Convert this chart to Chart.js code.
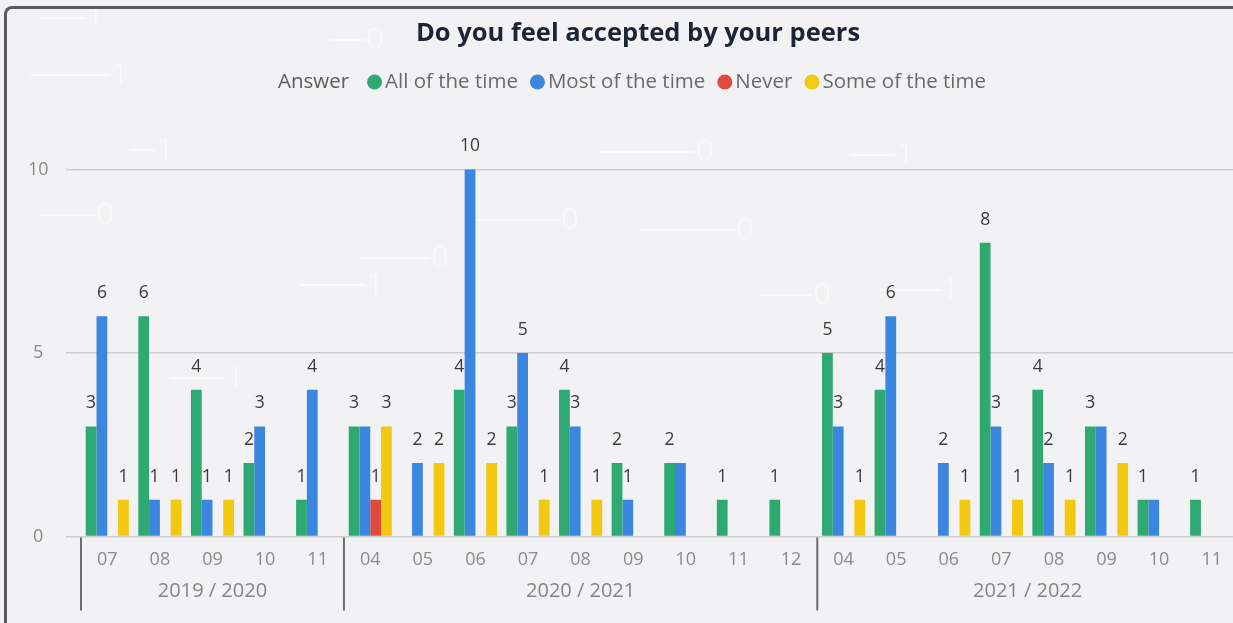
<!DOCTYPE html>
<html>
<head>
<meta charset="utf-8">
<title>Do you feel accepted by your peers</title>
<script src="https://cdn.jsdelivr.net/npm/chart.js@4.4.1/dist/chart.umd.min.js"></script>
<style>
  html, body { margin: 0; padding: 0; overflow: hidden; background: #f6f6f7; }
  #wrap { position: absolute; left: 0; top: 0; width: 1276px; height: 623px; background: #f2f2f4; }
  #frame {
    position: absolute; left: 4px; top: 6px; width: 1400px; height: 800px;
    border-left: 3px solid #5a5a5c; border-top: 3px solid #5a5a5c;
    border-top-left-radius: 8px; pointer-events: none;
  }
</style>
</head>
<body>
<div id="wrap"><canvas id="chart" width="1276" height="623"></canvas></div>
<div id="frame"></div>
<script>
// Months of each school year, in order
const months = [
  '07', '08', '09', '10', '11',
  '04', '05', '06', '07', '08', '09', '10', '11', '12',
  '04', '05', '06', '07', '08', '09', '10', '11'
];
const schoolYears = ['2019 / 2020', '2020 / 2021', '2021 / 2022'];
const monthsPerYear = [5, 9, 8];

const answers = ['All of the time', 'Most of the time', 'Never', 'Some of the time'];
const answerColors = ['#2fa972', '#3b86de', '#e04a3c', '#f2c811'];

const allOfTheTime  = [3, 6, 4, 2, 1,  3, 0, 4, 3, 4, 2, 2, 1, 1,  5, 4, 0, 8, 4, 3, 1, 1];
const mostOfTheTime = [6, 1, 1, 3, 4,  3, 2, 10, 5, 3, 1, 2, 0, 0,  3, 6, 2, 3, 2, 3, 1, 0];
const never         = [0, 0, 0, 0, 0,  1, 0, 0, 0, 0, 0, 0, 0, 0,  0, 0, 0, 0, 0, 0, 0, 0];
const someOfTheTime = [1, 1, 1, 0, 0,  3, 2, 2, 1, 1, 0, 0, 0, 0,  1, 0, 1, 1, 1, 2, 0, 0];

const yTicks = [0, 5, 10];

const seriesValues = [allOfTheTime, mostOfTheTime, never, someOfTheTime];

const FONT = '"Open Sans", "Noto Sans", sans-serif';

// Faint binary-code pattern painted behind the chart
const backdrop = {
  id: 'backdrop',
  beforeDraw(chart) {
    const ctx = chart.ctx;
    ctx.save();
    ctx.strokeStyle = 'rgba(255,255,255,0.55)';
    ctx.fillStyle = 'rgba(255,255,255,0.55)';
    ctx.lineWidth = 2;
    ctx.font = '300 30px ' + FONT;
    ctx.textAlign = 'center';
    ctx.textBaseline = 'middle';
    const glyphs = [
      ['1', 95, 18, 40], ['0', 375, 40, 330], ['1', 165, 150, 130], ['0', 105, 215, 40],
      ['0', 440, 258, 360], ['1', 375, 285, 300], ['0', 570, 220, 470], ['0', 745, 230, 640],
      ['0', 705, 152, 600], ['0', 822, 295, 760], ['1', 950, 290, 880], ['1', 235, 378, 170],
      ['1', 120, 75, 30], ['1', 905, 155, 850]
    ];
    glyphs.forEach(([t, x, y, from]) => {
      ctx.fillText(t, x, y);
      ctx.beginPath();
      ctx.moveTo(from, y);
      ctx.lineTo(x - 10, y);
      ctx.stroke();
    });
    ctx.restore();
  }
};

// Legend row: "Answer" caption followed by a dot and name per series
const answerLegend = {
  id: 'answerLegend',
  afterDraw(chart) {
    const ctx = chart.ctx;
    const y = 82;
    const r = 7.5;
    ctx.save();
    ctx.font = '20.5px ' + FONT;
    ctx.textBaseline = 'middle';
    const caption = 'Answer';
    const capW = ctx.measureText(caption).width;
    let total = capW + 18;
    answers.forEach((a, i) => {
      total += 2 * r + 3 + ctx.measureText(a).width + (i < answers.length - 1 ? 12 : 0);
    });
    let x = chart.width / 2 - 6 - total / 2;
    ctx.fillStyle = '#5b5b5b';
    ctx.textAlign = 'left';
    ctx.fillText(caption, x, y);
    x += capW + 18;
    answers.forEach((a, i) => {
      ctx.fillStyle = answerColors[i];
      ctx.beginPath();
      ctx.arc(x + r, y, r, 0, Math.PI * 2);
      ctx.fill();
      x += 2 * r + 3;
      ctx.fillStyle = '#6a6a6a';
      ctx.fillText(a, x, y);
      x += ctx.measureText(a).width + 12;
    });
    ctx.restore();
  }
};

// Value above each bar (skipped where it would crowd one already shown),
// school-year labels and separators under the months
const annotations = {
  id: 'annotations',
  afterDatasetsDraw(chart) {
    const ctx = chart.ctx;
    ctx.save();
    ctx.font = '17.5px ' + FONT;
    ctx.fillStyle = '#3a3a3a';
    ctx.textAlign = 'center';
    ctx.textBaseline = 'middle';
    const gap = 4;
    const placed = [];
    chart.data.datasets.forEach((ds, di) => {
      const meta = chart.getDatasetMeta(di);
      meta.data.forEach((bar, i) => {
        const v = ds.data[i];
        if (!(v > 0)) return;
        const text = String(v);
        const w = ctx.measureText(text).width;
        const box = { l: bar.x - w / 2 - gap, r: bar.x + w / 2 + gap, t: bar.y - 32, b: bar.y - 14 };
        const hit = placed.some(p => box.l < p.r && box.r > p.l && box.t < p.b && box.b > p.t);
        if (hit) return;
        placed.push(box);
        ctx.fillText(text, bar.x, bar.y - 23);
      });
    });

    const xs = chart.scales.x;
    const step = xs.getPixelForValue(1) - xs.getPixelForValue(0);
    const top = chart.chartArea.bottom + 1;
    ctx.strokeStyle = '#6e6e6e';
    ctx.lineWidth = 2;
    ctx.fillStyle = '#858585';
    ctx.font = '20px ' + FONT;
    let start = 0;
    monthsPerYear.forEach((n, g) => {
      const first = xs.getPixelForValue(start);
      const last = xs.getPixelForValue(start + n - 1);
      const edge = first - step / 2;
      ctx.beginPath();
      ctx.moveTo(edge, top);
      ctx.lineTo(edge, top + 73);
      ctx.stroke();
      ctx.fillText(schoolYears[g], (first + last) / 2, top + 54);
      start += n;
    });
    ctx.restore();
  }
};

new Chart(document.getElementById('chart'), {
  type: 'bar',
  data: {
    labels: months,
    datasets: answers.map((name, i) => ({
      label: name,
      data: seriesValues[i],
      backgroundColor: answerColors[i],
      borderWidth: 0,
      categoryPercentage: 0.82,
      barPercentage: 1.0
    }))
  },
  options: {
    responsive: false,
    animation: false,
    layout: { padding: 0 },
    plugins: {
      legend: { display: false },
      tooltip: { enabled: false },
      title: {
        display: true,
        text: 'Do you feel accepted by your peers',
        color: '#1d2436',
        font: { family: FONT, size: 25.5, weight: 'bold' },
        padding: { top: 18.2, bottom: 47.2 }
      }
    },
    scales: {
      x: {
        type: 'category',
        offset: true,
        grid: { display: false, drawTicks: false },
        border: { display: false },
        ticks: {
          color: '#8a8a8a',
          font: { family: FONT, size: 18 },
          padding: 13,
          maxRotation: 0,
          autoSkip: false
        },
        afterFit(scale) { scale.height = 86.5; }
      },
      y: {
        min: 0,
        max: 12,
        grid: { color: '#cdcdcf', lineWidth: 1.5, tickLength: 15, drawTicks: true },
        border: { display: false },
        ticks: {
          color: '#8a8a8a',
          font: { family: FONT, size: 18 },
          padding: 17.5,
          crossAlign: 'center'
        },
        afterBuildTicks(scale) { scale.ticks = yTicks.map(v => ({ value: v })); },
        afterFit(scale) { scale.width = 81; }
      },
      // empty right-hand strip so the plot ends short of the canvas edge
      yRight: {
        axis: 'y',
        position: 'right',
        grid: { display: false, drawTicks: false },
        border: { display: false },
        ticks: { display: false },
        afterFit(scale) { scale.width = 38; }
      }
    }
  },
  plugins: [backdrop, annotations, answerLegend]
});
</script>
</body>
</html>
